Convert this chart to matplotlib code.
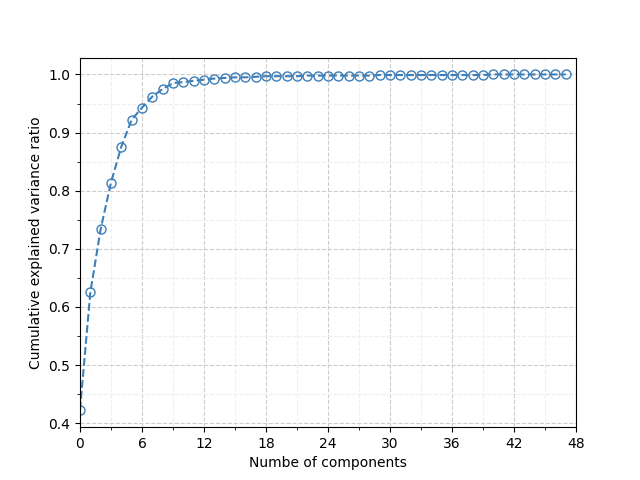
import matplotlib
matplotlib.use("Agg")
import matplotlib.pyplot as plt
import numpy as np
from matplotlib.ticker import MultipleLocator

n_components = np.arange(48)
cum_var = [
    0.423, 0.625, 0.734, 0.814, 0.876, 0.922, 0.943, 0.962, 0.975, 0.985,
    0.987, 0.989, 0.991, 0.993, 0.994, 0.995, 0.995, 0.996, 0.997, 0.997,
    0.997, 0.997, 0.998, 0.998, 0.998, 0.998, 0.998, 0.998, 0.998, 0.999,
    0.999, 0.999, 0.999, 0.999, 0.999, 0.999, 0.999, 0.999, 0.999, 0.999,
    1.000, 1.000, 1.000, 1.000, 1.000, 1.000, 1.000, 1.000,
]

fig, ax = plt.subplots(figsize=(6.4, 4.8), dpi=100)

ax.plot(n_components, cum_var, "--o", color="#3f7fb8", mfc="none", ms=6.5, lw=1.5)

ax.set_xlim(0, 48)
ax.set_ylim(0.393, 1.029)
ax.xaxis.set_major_locator(MultipleLocator(6))
ax.xaxis.set_minor_locator(MultipleLocator(3))
ax.yaxis.set_major_locator(MultipleLocator(0.1))
ax.yaxis.set_minor_locator(MultipleLocator(0.05))

# major grid darker, minor grid faint
ax.grid(which="major", ls="--", color="#cccccc", lw=0.8)
ax.grid(which="minor", ls="--", color="#eeeeee", lw=0.8)
ax.set_axisbelow(True)

ax.set_xlabel("Numbe of components")
ax.set_ylabel("Cumulative explained variance ratio")

fig.savefig("out.png")
